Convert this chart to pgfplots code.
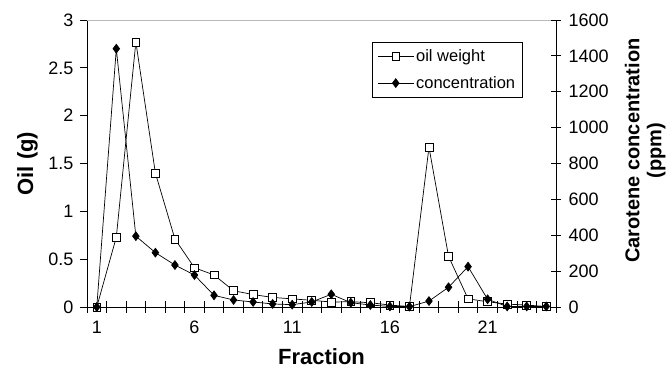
\documentclass[border=0pt]{standalone}
\usepackage{pgfplots}
\pgfplotsset{compat=1.18}
\usepackage{fontspec}
\setmainfont{Liberation Sans}

\pgfplotstableread{
f oil
1 0
2 0.73
3 2.77
4 1.40
5 0.71
6 0.41
7 0.335
8 0.17
9 0.13
10 0.10
11 0.085
12 0.07
13 0.052
14 0.055
15 0.045
16 0.02
17 0.005
18 1.67
19 0.53
20 0.085
21 0.055
22 0.03
23 0.02
24 0.005
}\oiltable

\pgfplotstableread{
f conc
1 0
2 1440
3 395
4 303
5 234
6 178
7 65
8 39
9 28
10 17
11 13
12 28
13 71
14 24
15 11
16 3
17 2
18 33
19 110
20 225
21 43
22 3
23 3
24 3
}\conctable

\begin{document}
\begin{tikzpicture}[x=1pt,y=1pt]
\pgfplotsset{
  common/.style={
    scale only axis, width=469pt, height=287pt,
    at={(87pt,64pt)}, anchor=south west,
    xmin=0.5, xmax=24.5, ymin=0,
    tick label style={font=\fontsize{18}{18}\selectfont},
    /pgf/number format/assume math mode=true,
    /pgf/number format/1000 sep={},
    scaled ticks=false,
    axis line style={black, line width=0.8pt},
    tick style={black, line width=0.8pt},
  },
  oilstyle/.style={black, line width=0.7pt, mark=square*, mark size=3.9pt, mark options={fill=white, solid, line width=0.7pt}},
  concstyle/.style={black, line width=0.7pt, mark=diamond*, mark size=4.4pt, mark options={fill=black, solid}},
}
\begin{axis}[common,
  ymax=3,
  axis x line*=bottom, axis y line*=left,
  ytick={0,0.5,...,3},
  ytick align=outside, major tick length=7pt,
  yticklabel style={xshift=-3pt},
  xtick={1,6,11,16,21},
  minor xtick={0.5,1.5,...,24.5},
  major x tick style={draw=none},
  xtick align=center, minor tick length=11.6pt,
  xticklabel style={yshift=-7pt},
  xlabel={Fraction},
  xlabel style={font=\bfseries\fontsize{22}{22}\selectfont, inner sep=0pt, at={(axis description cs:0.5,0)}, anchor=base, yshift=-58pt},
  ylabel={Oil (g)},
  ylabel style={font=\bfseries\fontsize{22}{22}\selectfont, at={(axis description cs:-0.1151,0.5)}, anchor=base, rotate=0},
]
\draw[gray!55, line width=0.8pt] (rel axis cs:0,1) -- (rel axis cs:1,1);
\addplot[oilstyle] table[x=f, y=oil] {\oiltable};
\end{axis}
\begin{axis}[common,
  ymax=1600,
  axis x line=none, axis y line*=right,
  ytick={0,200,...,1600},
  ytick align=center, major tick length=10pt,
  yticklabel style={xshift=4pt},
  ylabel={Carotene concentration\\(ppm)},
  ylabel style={font=\bfseries\fontsize{20}{22}\selectfont, align=center, inner sep=0pt, at={(axis description cs:1.190,0.545)}, anchor=center, rotate=0},
  legend style={at={(axis description cs:0.6077,0.925)}, anchor=north west, draw=black, line width=0.8pt,
    font=\fontsize{16.5}{16.5}\selectfont, row sep=9pt, inner xsep=5pt, inner ysep=6pt,
    /tikz/every even column/.append style={column sep=2pt}},
  legend cell align=left,
  legend image code/.code={\draw[#1, mark repeat=2, mark phase=2] plot coordinates {(0pt,0pt) (18pt,0pt) (36pt,0pt)};},
]
\addlegendimage{oilstyle}
\addlegendentry{oil weight}
\addplot[concstyle] table[x=f, y=conc] {\conctable};
\addlegendentry{concentration\hspace{14pt}}
\end{axis}
\pgfresetboundingbox
\path[use as bounding box] (0,0) rectangle (670,371);
\end{tikzpicture}
\end{document}
